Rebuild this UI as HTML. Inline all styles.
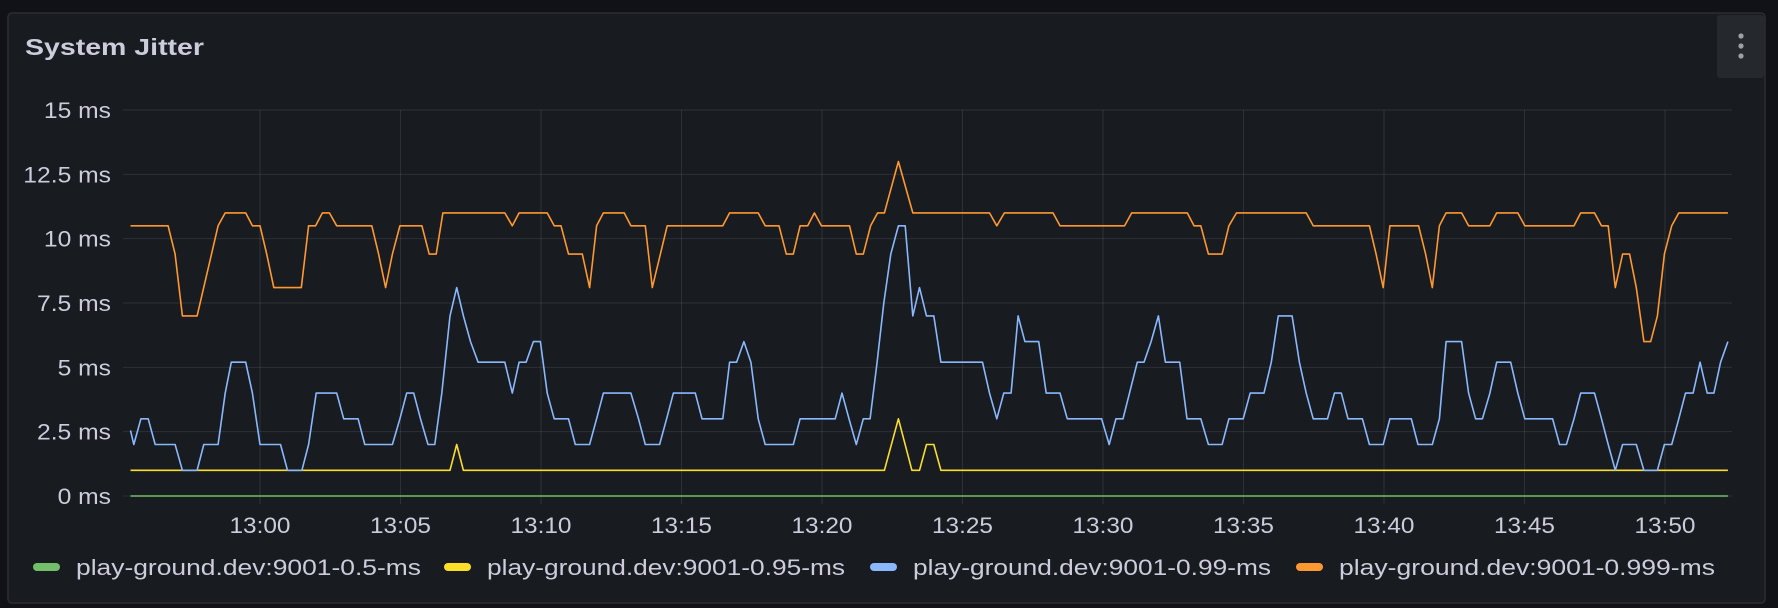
<!DOCTYPE html>
<html><head><meta charset="utf-8"><style>
html,body{margin:0;padding:0;background:#111217;}
body{width:1778px;height:608px;overflow:hidden;font-family:"Liberation Sans",sans-serif;}
svg{display:block}
</style></head><body>
<svg width="1778" height="608" xmlns="http://www.w3.org/2000/svg">
<rect x="8" y="13" width="1757" height="590" rx="4" fill="#181b1f" stroke="#2a2d33" stroke-width="1.5"/>
<text x="25" y="55" font-size="23" font-weight="bold" fill="#ccccdc" textLength="179" lengthAdjust="spacingAndGlyphs">System Jitter</text>
<g>
<rect x="1717" y="15" width="47" height="63" rx="3" fill="#25282d"/>
<circle cx="1741" cy="36" r="2.6" fill="#9fa0a6"/><circle cx="1741" cy="46" r="2.6" fill="#9fa0a6"/><circle cx="1741" cy="56" r="2.6" fill="#9fa0a6"/>
</g>
<g id="grid"></g>
<g id="yaxis"></g>
<g id="xaxis"></g>
<g id="series"></g>
<g id="legend"></g>
</svg>
<script>
const yTicks=[0,2.5,5,7.5,10,12.5,15];
const yTickLabels=["0 ms","2.5 ms","5 ms","7.5 ms","10 ms","12.5 ms","15 ms"];
const xTicks=[0,5,10,15,20,25,30,35,40,45,50];
const xTickLabels=["13:00","13:05","13:10","13:15","13:20","13:25","13:30","13:35","13:40","13:45","13:50"];
const seriesNames=["play-ground.dev:9001-0.5-ms","play-ground.dev:9001-0.95-ms","play-ground.dev:9001-0.99-ms","play-ground.dev:9001-0.999-ms"];
const seriesColors=["#73bf69","#fade2a","#8ab8ff","#ff9830"];
// minutes after 13:00
const greenT=[-4.61,52.24];
const greenV=[0,0];
const yellowT=[-4.61,6.76,7.0,7.24,22.22,22.72,23.2,23.47,23.72,23.98,24.23,52.24];
const yellowV=[1,1,2,1,1,3,1,1,2,2,1,1];
const blueT=[-4.61,-4.49,-4.24,-3.98,-3.73,-3.02,-2.76,-2.24,-2.0,-1.49,-1.24,-1.02,-0.51,-0.27,0,0.73,0.98,1.49,1.73,2.0,2.73,2.98,3.49,3.73,4.71,4.98,5.22,5.47,5.71,5.98,6.22,6.47,6.76,7.0,7.24,7.49,7.76,8.71,8.98,9.22,9.47,9.73,9.98,10.22,10.47,10.98,11.22,11.73,11.98,12.22,13.2,13.47,13.71,14.22,14.47,14.71,15.49,15.73,16.47,16.71,16.96,17.22,17.47,17.73,17.98,18.98,19.22,20.47,20.71,20.96,21.22,21.47,21.71,21.96,22.2,22.45,22.72,22.96,23.23,23.47,23.72,23.98,24.23,25.71,25.96,26.22,26.47,26.73,26.98,27.22,27.71,27.98,28.47,28.73,29.95,30.22,30.46,30.71,31.22,31.46,31.71,31.97,32.22,32.73,32.99,33.48,33.75,34.24,34.48,34.99,35.24,35.73,35.99,36.24,36.73,36.99,37.23,37.48,37.99,38.24,38.48,38.72,39.23,39.48,39.97,40.21,40.97,41.21,41.72,41.97,42.21,42.76,43.01,43.26,43.5,43.77,44.01,44.51,44.76,45.01,46.0,46.25,46.49,46.76,47.0,47.49,47.74,47.98,48.23,48.49,48.98,49.25,49.73,49.98,50.24,50.49,50.73,51.0,51.25,51.5,51.74,51.98,52.24];
const blueV=[2.55,2,3,3,2,2,1,1,2,2,4,5.2,5.2,4,2,2,1,1,2,4,4,3,3,2,2,3,4,4,3,2,2,4,7,8.1,7,6,5.2,5.2,4,5.2,5.2,6,6,4,3,3,2,2,3,4,4,3,2,2,3,4,4,3,3,5.2,5.2,6,5.2,3,2,2,3,3,4,3,2,3,3,5.2,7.5,9.4,10.5,10.5,7,8.1,7,7,5.2,5.2,4,3,4,4,7,6,6,4,4,3,3,2,3,3,5.2,5.2,6,7,5.2,5.2,3,3,2,2,3,3,4,4,5.2,7,7,5.2,4,3,3,4,4,3,3,2,2,3,3,2,2,3,6,6,4,3,3,4,5.2,5.2,4,3,3,2,2,3,4,4,3,2,1,2,2,1,1,2,2,3,4,4,5.2,4,4,5.2,6];
const orangeT=[-4.61,-3.27,-3.02,-2.76,-2.24,-1.49,-1.24,-0.51,-0.27,0,0.24,0.49,1.47,1.73,1.98,2.22,2.47,2.73,3.98,4.22,4.47,4.71,4.98,5.76,6.02,6.27,6.51,8.71,8.98,9.22,10.22,10.47,10.71,10.98,11.47,11.73,11.98,12.22,12.96,13.2,13.71,13.96,14.49,16.47,16.71,17.73,17.98,18.47,18.73,18.98,19.22,19.49,19.73,19.98,20.98,21.22,21.47,21.73,21.98,22.22,22.72,23.23,25.96,26.22,26.49,28.22,28.47,30.77,31.02,33.0,33.24,33.48,33.75,34.24,34.48,34.75,37.23,37.48,39.48,39.72,39.97,40.21,41.23,41.48,41.72,41.97,42.21,42.76,43.01,43.77,44.01,44.76,45.01,46.76,47.0,47.49,47.74,47.98,48.23,48.49,48.74,48.98,49.25,49.49,49.73,49.98,50.24,50.49,52.24];
const orangeV=[10.5,10.5,9.4,7,7,10.5,11,11,10.5,10.5,9.4,8.1,8.1,10.5,10.5,11,11,10.5,10.5,9.4,8.1,9.4,10.5,10.5,9.4,9.4,11,11,10.5,11,11,10.5,10.5,9.4,9.4,8.1,10.5,11,11,10.5,10.5,8.1,10.5,10.5,11,11,10.5,10.5,9.4,9.4,10.5,10.5,11,10.5,10.5,9.4,9.4,10.5,11,11,13,11,11,10.5,11,11,10.5,10.5,11,11,10.5,10.5,9.4,9.4,10.5,11,11,10.5,10.5,9.4,8.1,10.5,10.5,9.4,8.1,10.5,11,11,10.5,10.5,11,11,10.5,10.5,11,11,10.5,10.5,8.1,9.4,9.4,8.1,6,6,7,9.4,10.5,11,11];

const NS="http://www.w3.org/2000/svg";
const X0=123,X1=1732,Y0=496,Y1=110;
function xs(m){return 260+m*28.1;}
function ys(v){return Y0-(v/15)*(Y0-Y1);}
function mk(tag,attrs,parent){const e=document.createElementNS(NS,tag);for(const k in attrs)e.setAttribute(k,attrs[k]);parent.appendChild(e);return e;}
const grid=document.getElementById('grid'),ya=document.getElementById('yaxis'),xa=document.getElementById('xaxis'),sg=document.getElementById('series'),lg=document.getElementById('legend');
yTicks.forEach((v,i)=>{
  const l=mk('line',{x1:X0,x2:X1,y1:ys(v),y2:ys(v),stroke:'rgba(204,204,220,0.12)','stroke-width':1},grid);
  
  
  const t=mk('text',{x:111,y:ys(v)+8,'text-anchor':'end','font-size':22,fill:'#ccccdc'},ya);
  
  
  t.textContent=yTickLabels[i];
  const w=t.getComputedTextLength();
  if(w>0){t.setAttribute('textLength',(w*1.12).toFixed(1));t.setAttribute('lengthAdjust','spacingAndGlyphs');}
});
xTicks.forEach((m,i)=>{
  const l=mk('line',{x1:xs(m),x2:xs(m),y1:Y1,y2:504,stroke:'rgba(204,204,220,0.12)','stroke-width':1},grid);
  
  
  const t=mk('text',{x:xs(m),y:533,'text-anchor':'middle','font-size':22,fill:'#ccccdc',textLength:61,lengthAdjust:'spacingAndGlyphs'},xa);
  
  
  t.textContent=xTickLabels[i];
});
const allT=[greenT,yellowT,blueT,orangeT],allV=[greenV,yellowV,blueV,orangeV];
const sNames=['series-0.5-ms','series-0.95-ms','series-0.99-ms','series-0.999-ms'];
allT.forEach((T,s)=>{
  const pts=T.map((t,i)=>xs(t).toFixed(1)+','+ys(allV[s][i]).toFixed(1)).join(' ');
  const p=mk('polyline',{points:pts,fill:'none',stroke:seriesColors[s],'stroke-width':1.6,'stroke-linejoin':'round'},sg);
  
  
});
const legX=[33,444,870,1296];
const legW=[345,358,358,376];
seriesNames.forEach((n,i)=>{
  const g=mk('g',{},lg);
  
  
  mk('rect',{x:legX[i],y:563,width:27,height:8,rx:4,fill:seriesColors[i]},g);
  const t=mk('text',{x:legX[i]+43,y:575,'font-size':22,fill:'#ccccdc',textLength:legW[i],lengthAdjust:'spacingAndGlyphs'},g);
  t.textContent=n;
});
</script>
</body></html>
